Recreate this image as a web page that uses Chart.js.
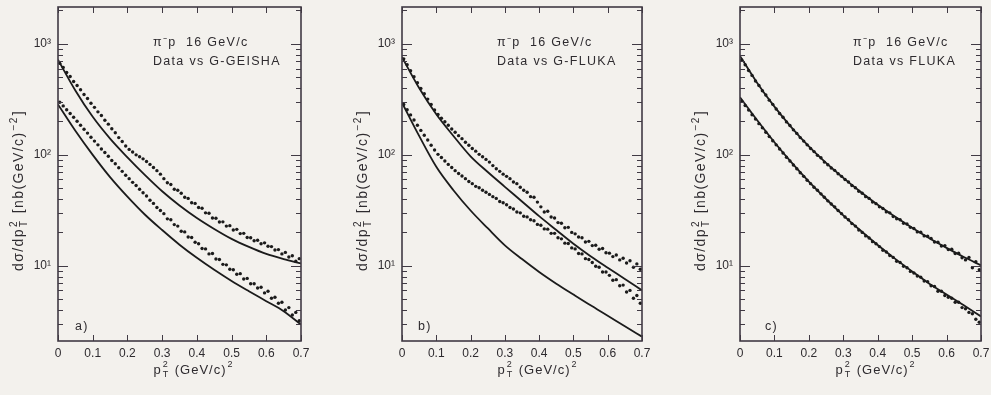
<!DOCTYPE html>
<html>
<head>
<meta charset="utf-8">
<script src="https://cdn.jsdelivr.net/npm/chart.js@4.4.0/dist/chart.umd.min.js"></script>
<style>
  html, body { margin: 0; background: #f3f1ed; }
  #wrap { position: relative; width: 991px; height: 395px; }
  canvas { position: absolute; left: 0; top: 0; }
</style>
</head>
<body>
<div id="wrap">
  <canvas id="panelA" width="991" height="395"></canvas>
  <canvas id="panelB" width="991" height="395"></canvas>
  <canvas id="panelC" width="991" height="395"></canvas>
</div>
<script>
// pT^2 bin centres of the measured points, (GeV/c)^2
const ptData = [0.005, 0.015, 0.025, 0.035, 0.045, 0.055, 0.065, 0.075, 0.085, 0.095,
  0.105, 0.115, 0.125, 0.135, 0.145, 0.155, 0.165, 0.175, 0.185, 0.195,
  0.205, 0.215, 0.225, 0.235, 0.245, 0.255, 0.265, 0.275, 0.285, 0.295,
  0.305, 0.315, 0.325, 0.335, 0.345, 0.355, 0.365, 0.375, 0.385, 0.395,
  0.405, 0.415, 0.425, 0.435, 0.445, 0.455, 0.465, 0.475, 0.485, 0.495,
  0.505, 0.515, 0.525, 0.535, 0.545, 0.555, 0.565, 0.575, 0.585, 0.595,
  0.605, 0.615, 0.625, 0.635, 0.645, 0.655, 0.665, 0.675, 0.685, 0.695];
// pT^2 where the model curves are sampled
const ptModel = [0, 0.05, 0.1, 0.15, 0.2, 0.25, 0.3, 0.35, 0.4, 0.45, 0.5, 0.55, 0.6, 0.65, 0.7];

// a) Data vs G-GEISHA
const aHiData = [668, 612, 552, 508, 458, 421, 386, 350, 322, 292, 268, 244, 226, 205, 189,
  172, 158, 143, 132, 120, 112, 106, 100, 96, 92, 87, 82, 77, 72, 67,
  61, 56, 54, 49, 48, 45, 41.5, 40.5, 37, 36.5, 33.5, 33, 30, 29.8, 27,
  26.8, 24.8, 24.9, 22.8, 23, 21, 21.3, 19.5, 19.6, 18, 17.9, 16.8, 17.0, 15.8, 16.1,
  15.0, 14.9, 13.9, 14.0, 12.8, 13.2, 12.0, 12.3, 11.0, 11.6];
const aLoData = [298, 276, 255, 236, 218, 201, 185, 170, 157, 144, 133, 123, 113, 105, 97,
  89, 83, 76.5, 71, 65.5, 61, 56.5, 53, 49, 45.5, 42.5, 39, 36.5, 33.5, 31.5,
  29.5, 26.5, 26, 23.5, 22.8, 20.5, 20.2, 18.2, 18, 16.3, 15.8, 14.3, 14.2, 12.8, 12.9,
  11.5, 11.4, 10.3, 10.2, 9.3, 9.2, 8.4, 8.5, 7.6, 7.7, 6.9, 6.9, 6.3, 6.4, 5.7,
  5.9, 5.1, 5.2, 4.6, 4.7, 4.0, 4.2, 3.6, 3.8, 3.2];
const aHiModel = [720, 380, 220, 140, 95, 66, 47, 35, 27, 21.5, 17.5, 14.8, 12.8, 11.5, 10.5];
const aLoModel = [285, 165, 100, 63, 42, 29, 21, 15.5, 11.8, 9.2, 7.3, 5.9, 4.8, 3.9, 2.95];

// b) Data vs G-FLUKA
const bHiData = [733, 648, 572, 506, 447, 397, 355, 318, 284, 254, 231, 214, 199, 185, 171,
  160, 149, 140, 130, 122, 114, 108, 101, 96, 91, 86, 80, 75, 71, 67,
  64, 61, 57, 55, 51, 48, 46, 42, 41.5, 37.5, 34, 30.5, 31, 27.5, 27,
  24.5, 24.2, 22, 22.2, 20, 19.4, 18.2, 17.9, 16.4, 16.6, 15.2, 15.3, 14.1, 14.3, 13.1,
  13.0, 12.1, 12.5, 11.3, 11.7, 10.6, 11.1, 9.7, 10.4, 9.3];
const bLoData = [284, 255, 229, 206, 185, 166, 150, 136, 122, 110.5, 101, 94.5, 88, 82, 77,
  72, 68, 64.5, 61, 57.5, 55, 52, 50.5, 48, 46, 44, 42, 40.5, 38, 37,
  35.5, 33.5, 32.5, 30.5, 30, 28, 27.6, 26, 25.5, 23.6, 23.2, 21.5, 21.4, 19.6, 19.6,
  17.9, 17.5, 16.0, 15.9, 14.5, 14.2, 12.9, 12.8, 11.6, 11.4, 10.7, 9.9, 9.7, 8.8, 8.8,
  8.2, 7.4, 7.5, 6.6, 6.7, 5.8, 6.0, 5.1, 5.4, 4.6];
const bHiModel = [760, 400, 232, 148, 97, 70, 51.5, 38, 28, 21, 15.8, 12.2, 9.6, 7.6, 6.0];
const bLoModel = [295, 148, 78, 48, 31.5, 21.8, 15.3, 11.5, 8.8, 6.9, 5.5, 4.4, 3.55, 2.85, 2.3];

// c) Data vs FLUKA
const cHiData = [715, 648, 576, 520, 463, 421, 378, 346, 311, 285, 259, 236, 218, 198, 184,
  168, 156, 143, 133, 123, 114, 107, 99, 94, 86, 81.5, 76, 72.5, 67.5, 64,
  60, 57, 53, 50.5, 47, 45, 42, 40.5, 37.5, 36.3, 34, 32.8, 30.6, 30, 27.8,
  26.5, 26, 24.2, 23.8, 22.2, 21.7, 20.2, 20.1, 18.6, 18.5, 17.6, 16.4, 16.3, 15.1, 15.2,
  14.0, 14.1, 12.9, 13.0, 11.8, 11.3, 11.9, 9.6, 10.9, 9.2];
const cLoData = [305, 278, 253, 230, 210, 191, 175, 160, 146, 134, 123, 113, 104, 95, 88,
  81, 75, 69, 64, 59, 55, 51, 48, 44.5, 41.5, 38.5, 36, 34, 31.5, 29.5,
  27.5, 26, 24, 22.8, 21, 20, 18.6, 17.8, 16.5, 15.8, 14.9, 13.8, 13.3, 12.4, 11.9,
  11.0, 10.7, 9.9, 9.6, 8.9, 8.6, 8.1, 7.9, 7.3, 7.2, 6.6, 6.5, 5.9, 5.9, 5.4,
  5.2, 5.1, 4.7, 4.7, 4.2, 4.1, 3.8, 3.7, 3.3, 3.1];
const cHiModel = [780, 445, 272, 176, 119, 84.5, 62, 46.5, 35.5, 27.8, 22, 17.7, 14.5, 12, 10.1];
const cLoModel = [330, 205, 130, 85, 57.5, 40, 28.5, 20.8, 15.4, 11.6, 8.9, 6.9, 5.5, 4.4, 3.5];

// axes
const xTickVals = [0, 0.1, 0.2, 0.3, 0.4, 0.5, 0.6, 0.7];
const xTickLabels = ['0', '0.1', '0.2', '0.3', '0.4', '0.5', '0.6', '0.7'];
const yTickVals = [3, 4, 5, 6, 7, 8, 9, 10, 20, 30, 40, 50, 60, 70, 80, 90,
  100, 200, 300, 400, 500, 600, 700, 800, 900, 1000, 2000];
const yTickLabels = { 10: '10\u00B9', 100: '10\u00B2', 1000: '10\u00B3' };

const ink = '#2e2b2f';
const frame = '#403a44';

function pts(xs, ys) {
  return ys.map((v, i) => ({ x: xs[i], y: v }));
}

// draws a string made of normal, superscript and stacked sup/sub pieces, centred on cx
function rich(ctx, parts, cx, cy, size) {
  const big = size + 'px "Liberation Sans"', small = Math.round(size * 0.68) + 'px "Liberation Sans"';
  const w = parts.map(([t, m]) => {
    ctx.font = m ? small : big;
    if (m === 'st') return Math.max(...t.split('|').map(s => ctx.measureText(s).width));
    return ctx.measureText(t).width;
  });
  let x = cx - (w.reduce((a, b) => a + b, 0) + parts.length) / 2;
  parts.forEach(([t, m], i) => {
    if (!m) {
      ctx.font = big;
      ctx.fillText(t, x, cy);
    } else if (m === '^') {
      ctx.font = small;
      ctx.fillText(t, x, cy - 5);
    } else {
      const [a, b] = t.split('|');
      ctx.font = small;
      ctx.fillText(a, x, cy - 5);
      ctx.fillText(b, x, cy + 5);
    }
    x += w[i] + 1;
  });
}

const panelPlugin = {
  id: 'panel',
  afterDatasetsDraw(chart, args, opts) {
    const { ctx, chartArea: a, scales: { x, y } } = chart;
    ctx.save();
    ctx.strokeStyle = frame;
    ctx.lineWidth = 1;
    ctx.beginPath();
    x.ticks.forEach(t => {
      const px = Math.round(x.getPixelForValue(t.value)) + 0.5;
      ctx.moveTo(px, a.bottom); ctx.lineTo(px, a.bottom - 6);
      ctx.moveTo(px, a.top); ctx.lineTo(px, a.top + 6);
    });
    y.ticks.forEach(t => {
      const py = Math.round(y.getPixelForValue(t.value)) + 0.5;
      const len = yTickLabels[t.value] ? 10 : 5;
      ctx.moveTo(a.left, py); ctx.lineTo(a.left + len, py);
      ctx.moveTo(a.right, py); ctx.lineTo(a.right - len, py);
    });
    ctx.stroke();
    ctx.lineWidth = 1.6;
    ctx.strokeRect(a.left, a.top, a.right - a.left, a.bottom - a.top);

    ctx.fillStyle = ink;
    ctx.textBaseline = 'middle';
    ctx.textAlign = 'left';
    ctx.letterSpacing = '1.3px';
    ctx.font = '12.5px "Liberation Sans"';
    ctx.fillText('\u03C0\u207Bp  16 GeV/c', a.left + opts.tx, 43);
    ctx.fillText('Data vs ' + opts.model, a.left + opts.tx, 62);
    ctx.fillText(opts.tag, a.left + opts.tagX, 327);

    ctx.letterSpacing = '1px';
    rich(ctx, [['p', ''], ['2|T', 'st'], [' (GeV/c)', ''], ['2', '^']], a.left + 136, 370, 13);
    ctx.translate(a.left - 39, 190);
    ctx.rotate(-Math.PI / 2);
    ctx.letterSpacing = '1.4px';
    rich(ctx, [['d\u03C3/dp', ''], ['2|T', 'st'], [' [nb(GeV/c)', ''], ['\u22122', '^'], [']', '']], 0, 0, 14);
    ctx.restore();
  }
};

function makePanel(id, padL, padR, tx, tagX, tag, model, hiData, loData, hiModel, loModel) {
  const dots = { pointRadius: 1.7, pointBorderWidth: 0, pointBackgroundColor: '#1b1b1b', showLine: false };
  const curve = { showLine: true, pointRadius: 0, borderColor: '#1b1b1b', borderWidth: 1.8,
    cubicInterpolationMode: 'monotone', fill: false };
  new Chart(document.getElementById(id), {
    type: 'scatter',
    data: {
      datasets: [
        Object.assign({ data: pts(ptModel, hiModel) }, curve),
        Object.assign({ data: pts(ptModel, loModel) }, curve),
        Object.assign({ data: pts(ptData, hiData) }, dots),
        Object.assign({ data: pts(ptData, loData) }, dots)
      ]
    },
    options: {
      responsive: false,
      animation: false,
      events: [],
      layout: { autoPadding: false, padding: { left: padL, right: padR, top: 7, bottom: 14 } },
      plugins: {
        legend: { display: false },
        tooltip: { enabled: false },
        panel: { tx: tx, tagX: tagX, tag: tag, model: model }
      },
      scales: {
        x: {
          type: 'linear', min: 0, max: 0.7,
          grid: { display: false, drawTicks: false },
          border: { display: false },
          afterBuildTicks: s => { s.ticks = xTickVals.map(v => ({ value: v })); },
          afterFit: s => { s.height = 40; s.paddingLeft = 0; s.paddingRight = 0; },
          ticks: { autoSkip: false, maxRotation: 0, padding: 5, color: ink,
            font: { family: 'Liberation Sans', size: 12 },
            callback: (v, i) => xTickLabels[i] }
        },
        y: {
          type: 'logarithmic', min: 2.1, max: 2150,
          grid: { display: false, drawTicks: false },
          border: { display: false },
          afterBuildTicks: s => { s.ticks = yTickVals.map(v => ({ value: v })); },
          afterFit: s => { s.width = 46; s.paddingTop = 0; s.paddingBottom = 0; },
          ticks: { autoSkip: false, padding: 7, color: ink,
            font: { family: 'Liberation Sans', size: 12 },
            callback: v => yTickLabels[v] || '' }
        }
      }
    },
    plugins: [panelPlugin]
  });
}

makePanel('panelA', 12, 690, 95, 17, 'a)', 'G-GEISHA', aHiData, aLoData, aHiModel, aLoModel);
makePanel('panelB', 356, 349, 95, 16, 'b)', 'G-FLUKA', bHiData, bLoData, bHiModel, bLoModel);
makePanel('panelC', 694, 10, 113, 25, 'c)', 'FLUKA', cHiData, cLoData, cHiModel, cLoModel);
</script>
</body>
</html>
